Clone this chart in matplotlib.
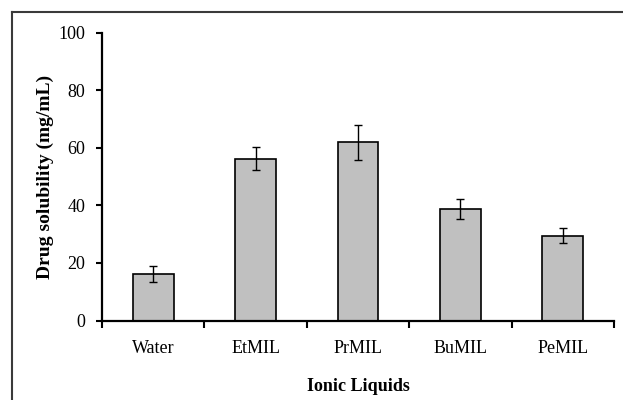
import matplotlib
matplotlib.use("Agg")
import matplotlib.pyplot as plt
from matplotlib.lines import Line2D
import numpy as np

categories = ["Water", "EtMIL", "PrMIL", "BuMIL", "PeMIL"]
solubility = [16.0, 56.2, 61.9, 38.7, 29.4]
errors = [2.8, 4.1, 6.0, 3.6, 2.6]
y_ticks = [0, 20, 40, 60, 80, 100]

plt.rcParams["font.family"] = ["Liberation Serif", "DejaVu Serif"]

W, H = 623, 400
fig = plt.figure(figsize=(W / 100, H / 100), dpi=100)
ax = fig.add_axes([102 / W, 1 - 320.5 / H, (614 - 102) / W, (320.5 - 32.5) / H])

x = np.arange(len(categories))
ax.bar(x, solubility, width=0.4, color="#c0c0c0", edgecolor="black",
       linewidth=1.2, zorder=2)
ax.errorbar(x, solubility, yerr=errors, fmt="none", ecolor="black",
            elinewidth=1.0, capsize=3, capthick=1.0, zorder=3)

ax.set_xlim(-0.5, len(categories) - 0.5)
ax.set_ylim(0, 100)
ax.set_yticks(y_ticks)
ax.set_yticklabels([str(v) for v in y_ticks], fontsize=13)

# Category boundaries carry the tick marks; names sit between them
ax.set_xticks(np.arange(-0.5, len(categories), 1.0))
ax.set_xticklabels([])
ax.set_xticks(x, minor=True)
ax.set_xticklabels(categories, minor=True, fontsize=13)
ax.tick_params(axis="x", which="major", direction="out", length=5, width=1.5)
ax.tick_params(axis="x", which="minor", length=0, pad=14)
ax.tick_params(axis="y", direction="out", length=4, width=1.5, pad=8)

for side in ("top", "right"):
    ax.spines[side].set_visible(False)
for side in ("left", "bottom"):
    ax.spines[side].set_linewidth(1.6)

ax.set_xlabel("Ionic Liquids", fontsize=13, fontweight="bold", labelpad=15)
ax.set_ylabel("Drug solubility (mg/mL)", fontsize=14, fontweight="bold", labelpad=3)

# Outer frame (top and left edges)
fig.add_artist(Line2D([11.5 / W, 1.0], [1 - 12 / H, 1 - 12 / H],
                      transform=fig.transFigure, color="#3a3a3a", linewidth=1.5))
fig.add_artist(Line2D([11.5 / W, 11.5 / W], [0.0, 1 - 12 / H],
                      transform=fig.transFigure, color="#3a3a3a", linewidth=1.5))

fig.savefig("out.png", dpi=100)
